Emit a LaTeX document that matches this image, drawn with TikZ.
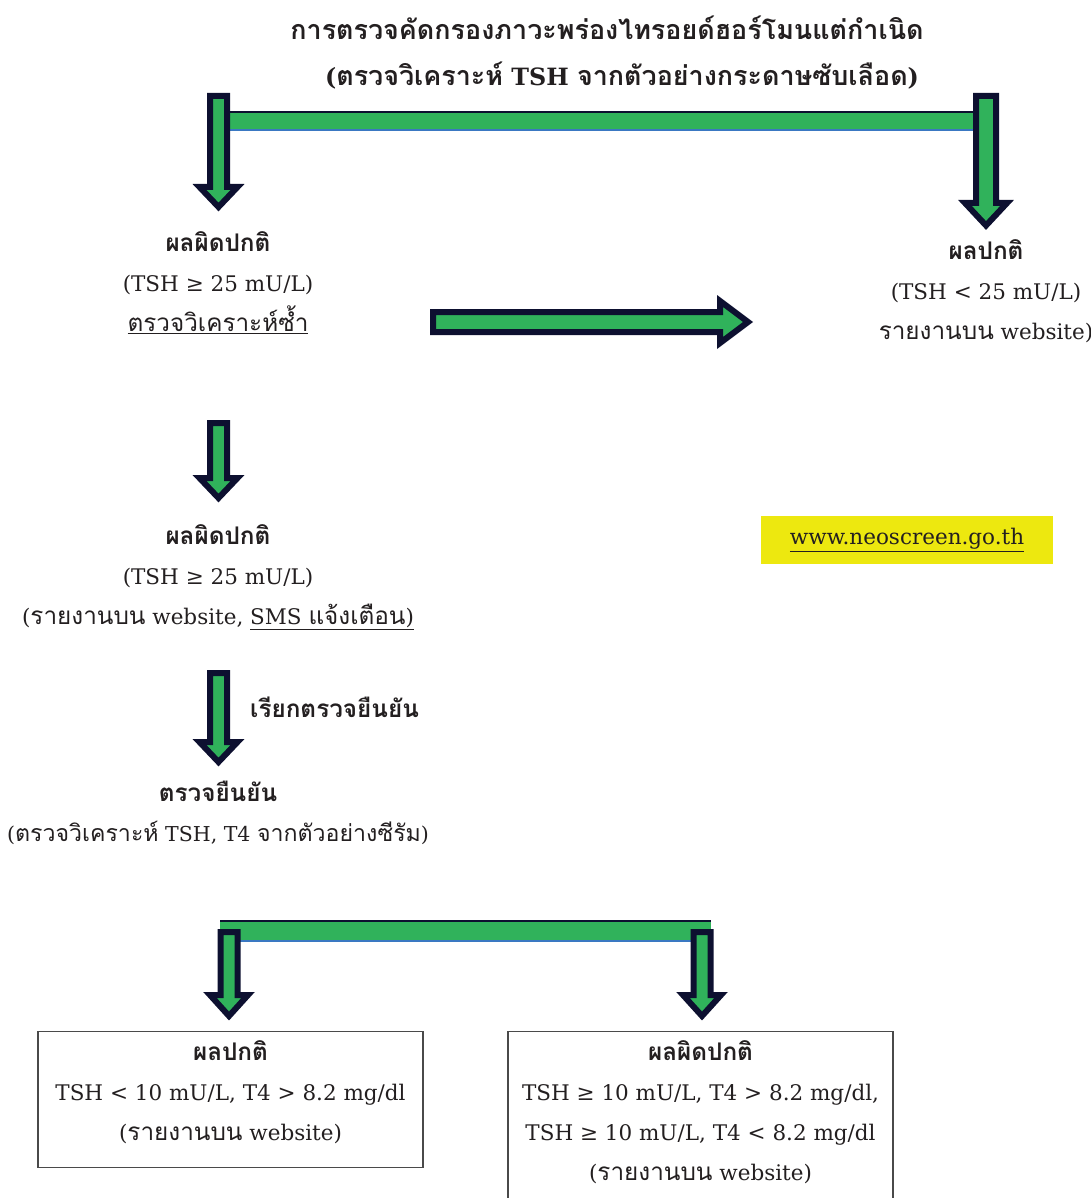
\documentclass[tikz,border=0pt]{standalone}
\usepackage{fontspec}
\setmainfont{DejaVu Serif}
\newfontfamily\thaifont[Script=Thai,Scale=1.13]{Loma}
\newcommand\tha[1]{{\thaifont #1}}
\usepackage{tikz}
\usetikzlibrary{positioning}
\definecolor{flowgreen}{HTML}{30B25B}
\definecolor{flownavy}{HTML}{0D1030}
\definecolor{flowblue}{HTML}{3A78C2}
\definecolor{flowyellow}{HTML}{EDE80F}
\definecolor{boxgray}{HTML}{4A4A4A}
\definecolor{inkgray}{HTML}{231F20}
\tikzset{
  blockarrow/.style={draw=flownavy, line width=6pt, fill=flowgreen, miter limit=10},
  flowtext/.style={font=\fontsize{21.5}{40}\selectfont, text=inkgray, align=center, inner sep=0pt},
  titletext/.style={font=\fontsize{23.8}{48}\selectfont\bfseries, text=inkgray, inner sep=0pt},
  resultbox/.style={draw=boxgray, line width=1.2pt, minimum width=385pt, inner xsep=0pt,
    inner ysep=9pt, text depth=18pt, align=center, text=inkgray, font=\fontsize{21.5}{40}\selectfont}
}
% down block arrow: x, top, head base, tip, shaft half, head half
\newcommand\flowdown[6]{%
  \filldraw[blockarrow] (#1-#5,#2) -- (#1+#5,#2) -- (#1+#5,#3) -- (#1+#6,#3) -- (#1,#4)
    -- (#1-#6,#3) -- (#1-#5,#3) -- cycle;}
\begin{document}
\begin{tikzpicture}[x=1pt,y=-1pt]
\useasboundingbox (0,0) rectangle (1091,1198);
% title
\node[titletext] (title) at (607,28) {\tha{การตรวจคัดกรองภาวะพร่องไทรอยด์ฮอร์โมนแต่กำเนิด}};
\node[titletext] (subtitle) at (622,76) {(\tha{ตรวจวิเคราะห์} TSH \tha{จากตัวอย่างกระดาษซับเลือด})};
% top split bar
\fill[flowgreen] (228,112) rectangle (976,130);
\draw[flownavy, line width=2pt] (228,112) -- (976,112);
\draw[flowblue, line width=2pt] (228,130) -- (976,130);
\flowdown{218.5}{96}{187}{207}{8.5}{19}
\flowdown{986}{96}{203}{225.5}{10}{21}
% first results
\node[flowtext] (abn1) at (218,283) {\tha{\bfseries ผลผิดปกติ}\\(TSH ≥ 25 mU/L)\\\underline{\tha{ตรวจวิเคราะห์ซ้ำ}}};
\node[flowtext] (norm1) at (986,291) {\tha{\bfseries ผลปกติ}\\(TSH < 25 mU/L)\\\tha{รายงานบน} website)};
\filldraw[blockarrow] (433,312) -- (720,312) -- (720,301) -- (748,322) -- (720,343)
  -- (720,332) -- (433,332) -- cycle;
% retest
\flowdown{218.5}{423}{478}{498}{8.5}{19}
\node[flowtext] (abn2) at (218,577) {\tha{\bfseries ผลผิดปกติ}\\(TSH ≥ 25 mU/L)\\(\tha{รายงานบน} website, \underline{SMS \tha{แจ้งเตือน})}};
\node[fill=flowyellow, minimum width=292pt, minimum height=48pt, font=\fontsize{21.5}{24}\selectfont, text=inkgray] (web) at (907,540) {\underline{www.neoscreen.go.th}};
% confirm
\flowdown{218.5}{673}{742}{762}{8.5}{19}
\node[flowtext, anchor=west] (recall) at (250,707) {\tha{\bfseries เรียกตรวจยืนยัน}};
\node[flowtext] (confirm) at (218,813) {\tha{\bfseries ตรวจยืนยัน}\\{\fontsize{20.5}{40}\selectfont(\tha{ตรวจวิเคราะห์} TSH, T4 \tha{จากตัวอย่างซีรัม})}};
% bottom split bar
\fill[flowgreen] (220,921) rectangle (711,941);
\draw[flownavy, line width=2pt] (220,921) -- (711,921);
\draw[flowblue, line width=2pt] (220,941) -- (711,941);
\flowdown{229}{932}{995}{1016}{8.5}{19}
\flowdown{702}{932}{995}{1016}{8.5}{19}
% final results
\node[resultbox, anchor=north] (normbox) at (230.5,1031) {\tha{\bfseries ผลปกติ}\\TSH < 10 mU/L, T4 > 8.2 mg/dl\\(\tha{รายงานบน} website)};
\node[resultbox, anchor=north, text depth=40pt] (abnbox) at (700.5,1031) {\tha{\bfseries ผลผิดปกติ}\\TSH ≥ 10 mU/L, T4 > 8.2 mg/dl,\\TSH ≥ 10 mU/L, T4 < 8.2 mg/dl\\(\tha{รายงานบน} website)};
\end{tikzpicture}
\end{document}
